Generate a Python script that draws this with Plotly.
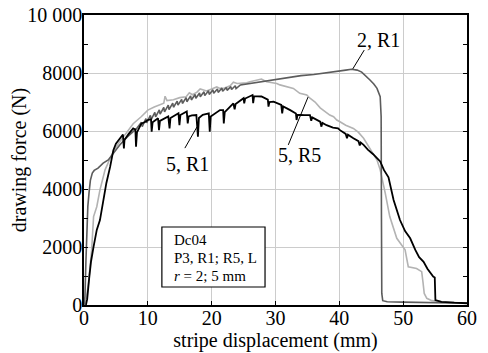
import plotly.graph_objects as go

# ---- data ----
x_2R1 = [0.0, 0.15, 0.3, 0.45, 0.6, 0.8, 1.0, 1.3, 1.6, 2.2, 3.0, 3.8, 4.6, 5.6, 6.7, 7.5, 8.3,
         9.0, 9.12, 9.7, 9.82, 10.4, 10.52, 11.1, 11.22, 11.8, 11.92, 12.5, 12.62, 13.2, 13.32,
         13.9, 14.02, 14.6, 14.72, 15.3, 15.42, 16.0, 16.12, 16.7, 16.82, 17.4, 17.52, 18.1, 18.22,
         18.8, 18.92, 19.5, 19.62, 20.2, 20.32, 20.9, 21.02, 21.6, 21.72, 22.3, 22.42, 23.0, 23.12,
         23.7, 23.82, 24.5, 26.0, 28.0, 30.0, 32.0, 34.0, 36.0, 38.0, 40.0, 41.0, 41.9, 42.8, 43.5,
         44.3, 44.8, 45.4, 45.9, 46.4, 46.55, 46.6, 46.65, 46.8, 47.5, 50.0, 55.0, 60.0]
y_2R1 = [0, 300, 1500, 2800, 3400, 3900, 4300, 4550, 4640, 4720, 4890, 5000, 5230, 5520, 5780, 5950, 6100,
         6300, 6150, 6430, 6280, 6540, 6390, 6640, 6490, 6730, 6580, 6810, 6660, 6890, 6740,
         6960, 6820, 7030, 6890, 7090, 6950, 7150, 7010, 7210, 7070, 7260, 7130, 7310, 7180,
         7350, 7220, 7390, 7260, 7420, 7300, 7450, 7330, 7480, 7370, 7500, 7400, 7530, 7430,
         7560, 7460, 7590, 7640, 7720, 7790, 7850, 7910, 7950, 8000, 8050, 8100, 8130, 8100, 8030,
         7880, 7760, 7620, 7470, 7180, 6500, 3000, 400, 150, 110, 100, 80, 60]

x_5R1 = [0.3, 0.5, 0.8, 1.1, 1.5, 2.0, 2.5, 3.0, 3.5, 4.1, 4.6, 5.0, 5.6, 6.1, 6.25, 6.35, 7.0, 7.7,
         8.05, 8.15, 8.3, 9.0, 9.5, 10.0, 10.5, 10.6, 10.75, 11.6, 11.75, 11.9, 13.2, 13.4, 13.55,
         14.8, 14.95, 15.1, 16.1, 16.25, 16.4, 16.9, 17.6, 17.85, 18.0, 18.6, 19.55, 19.7, 19.85,
         20.8, 21.3, 21.8, 21.9, 22.05, 23.4, 23.6, 23.75, 25.0, 25.1, 25.25, 26.4, 26.5, 26.65,
         27.8, 28.8, 28.9, 29.05, 29.7, 30.9, 31.05, 31.2, 32.3, 33.2, 33.3, 33.45, 34.5, 35.4,
         35.6, 35.75, 37.0, 37.2, 37.35, 38.0, 39.0, 39.8, 40.1, 41.0, 41.2, 41.35, 42.2, 43.0,
         43.2, 43.35, 43.8, 44.5, 45.3, 46.1, 46.4, 47.0, 47.7, 48.5, 49.5, 50.3, 51.1, 51.9,
         52.5, 53.2, 53.8, 54.7, 54.95, 55.05, 56.0, 58.0, 60.0]
y_5R1 = [0, 200, 900, 1500, 2010, 2590, 2930, 3620, 4200, 4770, 5340, 5560, 5750, 5880, 5400, 5700, 5900, 6090,
         6050, 5460, 5950, 6260, 6300, 6380, 6400, 5980, 6300, 6440, 6030, 6350, 6500, 6090, 6450,
         6610, 6200, 6550, 6670, 6260, 6500, 6540, 6550, 5800, 6450, 6560, 6610, 5980, 6500,
         6640, 6720, 6720, 6260, 6650, 6950, 6750, 6930, 7130, 6950, 7120, 7240, 6960, 7200,
         7190, 7080, 6840, 7000, 7010, 6900, 6610, 6850, 6720, 6600, 6380, 6560, 6550, 6550,
         6350, 6470, 6320, 6150, 6280, 6200, 6120, 6090, 6030, 5900, 5750, 5870, 5750, 5650,
         5500, 5600, 5520, 5350, 5200, 5000, 4950, 4650, 4400, 3620, 2930, 2550, 2300, 1900,
         1650, 1490, 1250, 980, 950, 170, 110, 80, 60]

x_5R5 = [0.0, 0.3, 0.7, 1.2, 1.5, 2.0, 2.5, 3.3, 4.1, 4.6, 5.5, 6.5, 7.7, 9.0, 10.0, 11.0, 12.0, 12.5,
         12.7, 13.0, 14.0, 15.0, 16.0, 16.5, 17.0, 17.7, 18.2, 19.2, 20.0, 20.8, 21.3, 22.0, 22.9,
         23.4, 24.0, 25.0, 25.5, 26.0, 27.0, 27.8, 28.6, 29.5, 30.2, 30.7, 31.8, 32.8, 33.8, 34.9,
         35.4, 36.2, 37.0, 38.5, 39.1, 39.6, 40.1, 41.0, 42.2, 43.0, 43.8, 44.5, 45.3, 45.9, 46.4,
         46.8, 47.2, 47.9, 48.5, 49.0, 50.3, 50.8, 52.1, 52.9, 53.1, 53.3, 53.7, 54.5, 56.0, 60.0]
y_5R5 = [0, 150, 750, 1900, 3050, 3390, 3970, 4660, 5060, 5300, 5600, 5900, 6250, 6500, 6720, 6830, 6920, 6960,
         7200, 7050, 7080, 7150, 7180, 7320, 7250, 7340, 7450, 7380, 7450, 7520, 7470, 7480, 7560,
         7680, 7640, 7650, 7660, 7700, 7740, 7790, 7700, 7660, 7640, 7590, 7530, 7470, 7300, 7240,
         7130, 7000, 6800, 6550, 6490, 6380, 6320, 6200, 6090, 5950, 5750, 5500, 5230, 5000, 4660,
         4300, 3850, 3050, 2650, 2300, 1900, 1320, 1260, 1150, 800, 400, 230, 150, 110, 60]

x_tickvals = [0, 10, 20, 30, 40, 50, 60]
y_tickvals = [0, 2000, 4000, 6000, 8000, 10000]
y_ticktext = ["0", "2000", "4000", "6000", "8000", "10 000"]

FONT = "Liberation Serif"

fig = go.Figure()
fig.add_trace(go.Scatter(x=x_5R5, y=y_5R5, mode="lines", line=dict(color="#b3b3b3", width=1.6), name="5, R5"))
fig.add_trace(go.Scatter(x=x_2R1, y=y_2R1, mode="lines", line=dict(color="#5c5c5c", width=1.6), name="2, R1"))
fig.add_trace(go.Scatter(x=x_5R1, y=y_5R1, mode="lines", line=dict(color="#000000", width=1.8), name="5, R1"))

# labels with leader lines
labels = [
    ("2, R1", 46.1, 9140, 43.9, 8790, 42.1, 8140),
    ("5, R5", 33.8, 5170, 32.0, 5520, 35.1, 7170),
    ("5, R1", 16.2, 4860, 15.8, 5410, 17.7, 6140),
]
for txt, tx, ty, x0, y0, x1, y1 in labels:
    fig.add_annotation(x=tx, y=ty, text=txt, showarrow=False, font=dict(family=FONT, size=20, color="black"))
    fig.add_shape(type="line", x0=x0, y0=y0, x1=x1, y1=y1, line=dict(color="black", width=1))

# info box
fig.add_shape(type="rect", x0=12.2, x1=28.36, y0=620, y1=2690,
              line=dict(color="black", width=1.2), fillcolor="white")
info_lines = ["Dc04", "P3, R1; R5, L", "<i>r</i> = 2; 5 mm"]
info_y = [2230, 1610, 1000]
for t, yy in zip(info_lines, info_y):
    fig.add_annotation(x=13.74, y=yy, text=t, showarrow=False, xanchor="left", yanchor="middle",
                       font=dict(family=FONT, size=15, color="black"))

fig.update_layout(
    width=480, height=345,
    margin=dict(l=76, r=20.5, t=7, b=48),
    plot_bgcolor="white", paper_bgcolor="white",
    showlegend=False,
    font=dict(family=FONT, size=20, color="black"),
)
fig.update_xaxes(
    range=[0, 60], tickmode="array", tickvals=x_tickvals, automargin=False,
    showgrid=True, gridcolor="#cccccc", gridwidth=1, zeroline=False,
    showline=True, linecolor="black", linewidth=1.5, mirror=True,
    ticks="inside", ticklen=4, tickcolor="black", ticklabelstandoff=-6,
    ticklabeloverflow="allow",
    tickfont=dict(family=FONT, size=20),
    title=dict(text="stripe displacement (mm)", font=dict(family=FONT, size=20), standoff=2),
)
fig.update_yaxes(
    range=[0, 10000], tickmode="array", tickvals=y_tickvals, ticktext=y_ticktext, automargin=False,
    showgrid=True, gridcolor="#cccccc", gridwidth=1, zeroline=False,
    showline=True, linecolor="black", linewidth=1.5, mirror="ticks",
    ticks="inside", ticklen=4, tickcolor="black", ticklabelstandoff=-4,
    ticklabeloverflow="allow",
    minor=dict(dtick=1000, tick0=0, ticks="inside", ticklen=4, tickcolor="black", showgrid=False),
    tickfont=dict(family=FONT, size=20),
    title=dict(text="drawing force (N)", font=dict(family=FONT, size=20), standoff=6),
)

fig.write_html("out.html")
